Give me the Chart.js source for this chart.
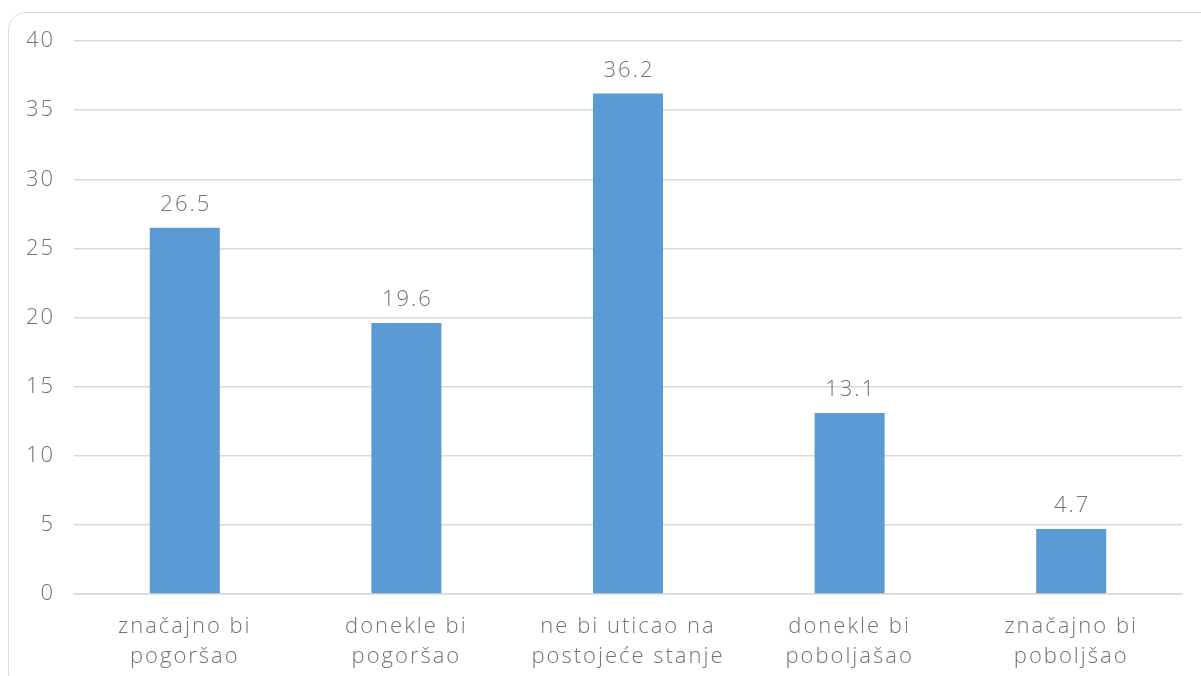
<!DOCTYPE html>
<html>
<head>
<meta charset="utf-8">
<script src="https://cdn.jsdelivr.net/npm/chart.js@4.4.1/dist/chart.umd.min.js"></script>
<style>
    html, body { margin: 0; padding: 0; background: #fff; overflow: hidden; }
    #frame {
        position: absolute; left: 8px; top: 12px; width: 1210px; height: 680px;
        border: 1.5px solid #d9d9d9; border-radius: 18px; box-sizing: border-box;
    }
    #wrap { position: absolute; left: 0; top: 0; width: 1201px; height: 676px; }
</style>
</head>
<body>
<div id="frame"></div>
<div id="wrap"><canvas id="myBarChart" width="1201" height="676"></canvas></div>
<script>
// Data
let categories = [
    ['značajno bi', 'pogoršao'],
    ['donekle bi', 'pogoršao'],
    ['ne bi uticao na', 'postojeće stanje'],
    ['donekle bi', 'poboljašao'],
    ['značajno bi', 'poboljšao']
];
let values = [26.5, 19.6, 36.2, 13.1, 4.7];
let yTicks = [0, 5, 10, 15, 20, 25, 30, 35, 40];

let fontFamily = "'Open Sans', sans-serif";
let textColor = '#737373';
let spacing = '2px';

// Wider letters, closer to the original geometric font
let wideText = {
    id: 'wideText',
    beforeLayout(chart) { chart.ctx.letterSpacing = spacing; },
    beforeDraw(chart) { chart.ctx.letterSpacing = spacing; }
};

// Draw the value above every bar
let valueLabels = {
    id: 'valueLabels',
    afterDatasetsDraw(chart) {
        let ctx = chart.ctx;
        let meta = chart.getDatasetMeta(0);
        ctx.save();
        ctx.letterSpacing = spacing;
        ctx.font = '300 22px ' + fontFamily;
        ctx.fillStyle = textColor;
        ctx.textAlign = 'center';
        ctx.textBaseline = 'bottom';
        meta.data.forEach(function (bar, i) {
            ctx.fillText(values[i].toFixed(1), bar.x + 1, bar.y - 12);
        });
        ctx.restore();
    }
};

let ctx = document.getElementById('myBarChart').getContext('2d');

let myBarChart = new Chart(ctx, {
    type: 'bar',
    data: {
        labels: categories,
        datasets: [{
            data: values,
            backgroundColor: '#5B9BD5',
            borderWidth: 0,
            barPercentage: 0.316,
            categoryPercentage: 1
        }]
    },
    options: {
        responsive: false,
        animation: false,
        layout: { padding: { top: 41, right: 19, bottom: 0, left: 0 } },
        plugins: {
            legend: { display: false },
            tooltip: { enabled: false }
        },
        scales: {
            x: {
                grid: { display: false, drawTicks: false },
                border: { color: '#d9d9d9', width: 1.5 },
                ticks: {
                    color: textColor,
                    font: { family: fontFamily, size: 22, weight: '300', lineHeight: 1.36 },
                    padding: 18,
                    maxRotation: 0
                },
                afterFit: function (scale) { scale.height = 82; }
            },
            y: {
                min: 0,
                max: 40,
                afterBuildTicks: function (scale) {
                    scale.ticks = yTicks.map(function (v) { return { value: v }; });
                },
                grid: { color: '#d9d9d9', lineWidth: 1.5, drawTicks: false },
                border: { display: false },
                ticks: {
                    color: textColor,
                    font: { family: fontFamily, size: 22, weight: '300' },
                    padding: 19
                },
                afterFit: function (scale) { scale.width = 74; }
            }
        }
    },
    plugins: [wideText, valueLabels]
});
</script>
</body>
</html>
